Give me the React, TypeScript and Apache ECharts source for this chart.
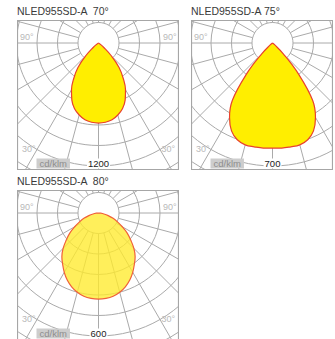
import React, { useEffect, useRef } from "react";
import * as echarts from "echarts";

// ---- data ----
const titles = ["NLED955SD-A  70°", "NLED955SD-A 75°", "NLED955SD-A  80°"];
const scaleLabels = [1200, 700, 600]; // value printed on the 6th ring
const unitLabel = "cd/klm";
const angleLabelTop = "90°";
const angleLabelBottom = "30°";

// angle from nadir (deg)
const anglesDeg = [0, 5, 10, 15, 20, 25, 30, 35, 40, 45, 50, 55, 60, 65, 70, 75, 80, 85, 90];
// luminous intensity, cd/klm
const intensity70 = [781, 776, 761, 727, 683, 615, 527, 420, 312, 176, 68, 20, 0, 0, 0, 0, 0, 0, 0];
const intensity75 = [598, 600, 600, 600, 586, 552, 489, 398, 228, 85, 17, 0, 0, 0, 0, 0, 0, 0, 0];
const intensity80 = [420, 418, 412, 400, 383, 361, 334, 305, 278, 244, 205, 171, 134, 102, 76, 49, 27, 10, 0];

const intensities = [intensity70, intensity75, intensity80];

// ---- layout ----
const PAGE_W = 335;
const PAGE_H = 339;
const PANELS = [
  { left: 17, top: 20, width: 162, height: 150 },
  { left: 191, top: 20, width: 142, height: 150 },
  { left: 17, top: 190, width: 162, height: 150 },
];
const CX = 81.5;
const CY = 23;
const RING_PX = 20.5;
const RINGS = 8;
const LABEL_RING = 6;
const GRID = "#aaaaaa";
const BORDER = "#a6a6a6";
const FONT = "Liberation Sans, Arial, sans-serif";

const fills = ["#ffee00", "#ffee00", "rgba(255, 234, 45, 0.78)"];
const strokes = ["#e8412f", "#e8412f", "#f0603a"];

function closedCurve(vals: number[]): [number, number][] {
  let end = vals.findIndex((v, k) => k > 0 && v === 0);
  if (end === -1) end = vals.length - 1;
  const pts: [number, number][] = [];
  for (let k = end; k >= 1; k--) pts.push([vals[k], -anglesDeg[k]]);
  for (let k = 0; k <= end; k++) pts.push([vals[k], anglesDeg[k]]);
  return pts;
}

function panelOption(i: number) {
  const p = PANELS[i];
  const step = scaleLabels[i] / LABEL_RING;
  const hidden = {
    axisLine: { show: false },
    axisTick: { show: false },
    axisLabel: { show: false },
  };
  const small = { fontSize: 9, fontFamily: FONT };
  const labelColor = "#b9b9b9";
  const texts: any[] = [
    {
      type: "text", z: 101, x: CX - 78.5, y: CY - 6.5,
      style: { text: angleLabelTop, ...small, fill: labelColor, align: "left", verticalAlign: "middle" },
    },
    {
      type: "text", z: 101, x: CX - 76.5, y: CY + 105.5,
      style: { text: angleLabelBottom, ...small, fill: labelColor, align: "left", verticalAlign: "middle" },
    },
    {
      type: "text", z: 101, x: CX - 62, y: CY + 120.5,
      style: {
        text: unitLabel, fontSize: 9.5, lineHeight: 10, fontFamily: FONT, fill: "#8e8e8e", align: "left",
        verticalAlign: "middle", backgroundColor: "#cdcdcd", padding: [0, 3],
      },
    },
    {
      type: "text", z: 101, x: CX, y: CY + 120.5,
      style: {
        text: String(scaleLabels[i]), fontSize: 9.5, lineHeight: 10, fontFamily: FONT, fill: "#222222",
        align: "center", verticalAlign: "middle", backgroundColor: "#ffffff", padding: [0, 1],
      },
    },
  ];
  // right-hand labels only where the panel is wide enough to show them
  if (CX + 80 <= p.width) {
    texts.push(
      {
        type: "text", z: 101, x: CX + 78, y: CY - 6.5,
        style: { text: angleLabelTop, ...small, fill: labelColor, align: "right", verticalAlign: "middle" },
      },
      {
        type: "text", z: 101, x: CX + 76.5, y: CY + 106,
        style: { text: angleLabelBottom, ...small, fill: labelColor, align: "right", verticalAlign: "middle" },
      }
    );
  }
  return {
    animation: false,
    polar: [
      { center: [CX, CY], radius: [RING_PX, RING_PX * RINGS] },
      { center: [CX, CY], radius: [0, RING_PX * RINGS] },
    ],
    angleAxis: [
      {
        polarIndex: 0,
        type: "value",
        min: 0,
        max: 360,
        interval: 15,
        startAngle: 90,
        ...hidden,
        splitLine: { show: true, lineStyle: { color: GRID, width: 1 } },
      },
      { polarIndex: 1, type: "value", min: -180, max: 180, startAngle: 90, show: false },
    ],
    radiusAxis: [
      {
        polarIndex: 0,
        type: "value",
        min: 1,
        max: RINGS,
        interval: 1,
        ...hidden,
        splitLine: { show: true, lineStyle: { color: GRID, width: 1 } },
      },
      { polarIndex: 1, type: "value", min: 0, max: step * RINGS, show: false },
    ],
    series: [
      {
        type: "line",
        coordinateSystem: "polar",
        polarIndex: 1,
        data: closedCurve(intensities[i]),
        symbol: "none",
        smooth: 0.4,
        lineStyle: { color: strokes[i], width: 1.2 },
        areaStyle: { color: fills[i], opacity: 1 },
        silent: true,
      },
    ],
    graphic: [
      {
        type: "rect",
        z: 100,
        silent: true,
        shape: { x: 0.5, y: 0.5, width: p.width - 1, height: p.height - 1 },
        style: { fill: "none", stroke: BORDER, lineWidth: 1.2 },
      },
      ...texts,
    ],
  };
}

export default function App() {
  const bgRef = useRef<HTMLDivElement>(null);
  const r0 = useRef<HTMLDivElement>(null);
  const r1 = useRef<HTMLDivElement>(null);
  const r2 = useRef<HTMLDivElement>(null);
  const refs = [r0, r1, r2];

  useEffect(() => {
    const charts: echarts.ECharts[] = [];
    const bg = echarts.init(bgRef.current!, null, { renderer: "svg" });
    bg.setOption({
      animation: false,
      title: titles.map((t, i) => ({
        text: t,
        left: PANELS[i].left,
        top: PANELS[i].top - 15,
        padding: 0,
        textStyle: { fontSize: 10.5, fontWeight: "normal", color: "#3a3a3a", fontFamily: FONT },
      })),
    });
    charts.push(bg);
    refs.forEach((r, i) => {
      const c = echarts.init(r.current!, null, { renderer: "svg" });
      c.setOption(panelOption(i));
      charts.push(c);
    });
    return () => charts.forEach((c) => c.dispose());
  }, []);

  return (
    <div
      style={{
        position: "absolute",
        left: 0,
        top: 0,
        width: PAGE_W,
        height: PAGE_H,
        overflow: "hidden",
        background: "#ffffff",
      }}
    >
      <div ref={bgRef} style={{ position: "absolute", left: 0, top: 0, width: PAGE_W, height: PAGE_H }} />
      {PANELS.map((p, i) => (
        <div
          key={i}
          ref={refs[i]}
          style={{ position: "absolute", left: p.left, top: p.top, width: p.width, height: p.height, overflow: "hidden" }}
        />
      ))}
    </div>
  );
}
